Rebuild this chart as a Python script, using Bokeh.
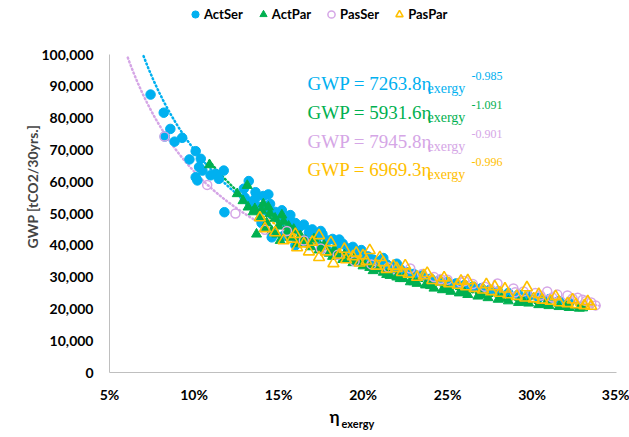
import numpy as np
from bokeh.plotting import figure
from bokeh.layouts import column
from bokeh.models import (Range1d, FixedTicker, NumeralTickFormatter, Label,
                          Legend, LegendItem)
from bokeh.core.properties import value
from bokeh.embed import file_html
from bokeh.resources import INLINE

# ---------------- data (x in %, GWP in tCO2/30yrs) ----------------
actser_x = [7.43, 8.21, 8.6, 8.27, 8.85, 9.3, 10.1, 10.4, 9.73, 10.3, 10.5, 10.1, 10.2,
            10.98, 11.27, 11.76, 11.47, 11.8, 13.24, 13.64,
            13.0, 13.3, 13.6, 13.9, 14.1, 14.3, 14.5, 14.8, 15.0, 15.2, 15.5, 15.7, 16.0,
            16.2, 16.5, 16.8, 17.0, 17.3, 17.6, 17.9, 18.2, 18.5, 18.8, 19.1, 19.4, 19.7,
            20.0, 20.3, 20.6, 21.0, 21.4, 21.8, 22.2, 22.6, 23.0, 23.5, 24.0, 24.5, 25.0,
            25.5, 26.0, 26.5, 27.0, 27.5, 28.0, 28.6, 29.2, 29.8, 30.4, 31.0, 31.6, 32.2,
            15.3, 16.6, 14.0, 14.6, 16.0, 12.95, 14.4, 17.5, 18.6, 19.9, 21.2, 22.0]
actser_y = [87400, 81700, 76600, 74200, 72600, 73800, 69600, 67200, 67000, 64600, 63500, 61400, 60400,
            62000, 62500, 63500, 60900, 50400, 60200, 56700,
            55000, 53500, 54500, 52000, 55500, 51000, 53000, 50500, 49000, 51000, 48000, 49500, 47000,
            45500, 46500, 44000, 45000, 42500, 43500, 41500, 42000, 40000, 40500, 39000, 39500, 37500,
            37000, 36500, 35500, 35000, 34000, 33000, 32500, 31500, 31000, 30500, 29500, 29000, 28500,
            28000, 27500, 27000, 26500, 26000, 25500, 25000, 24500, 24000, 23500, 23000, 22500, 22000,
            43000, 41000, 47000, 42500, 40000, 57800, 56000, 44500, 41800, 38500, 36000, 34200]

actpar_x = [10.92, 13.15, 12.56, 12.9, 13.2, 13.5, 13.7, 13.9, 14.1, 14.3, 14.5, 14.6, 14.8,
            15.0, 15.1, 15.3, 15.5, 15.7, 15.9, 16.1, 16.3, 16.6, 16.9, 17.1, 17.4, 17.7,
            18.0, 18.3, 18.6, 18.9, 19.2, 19.5, 19.8, 20.1, 20.4, 20.8, 21.2, 21.6, 22.0,
            22.4, 22.8, 23.2, 23.7, 24.2, 24.7, 25.2, 25.7, 26.2, 26.8, 27.4, 28.0, 28.6,
            29.2, 29.8, 30.4, 31.0, 31.6, 32.2, 32.8, 14.0,
            14.2, 14.9, 15.6, 16.2, 16.8, 17.5, 18.2, 18.8, 19.4, 20.0, 20.6, 21.4, 22.2,
            23.0, 24.0, 25.0, 26.0, 27.0, 28.2, 29.5, 30.8, 32.0, 33.0, 13.6, 14.4, 15.2]
actpar_y = [65300, 58800, 56200, 54000, 52000, 50500, 43500, 49000, 53000, 47000, 50000, 44500, 48500,
            46000, 41500, 47500, 44000, 42500, 45000, 40500, 43000, 41500, 39500, 42000, 38500, 40000,
            37500, 38500, 36500, 37000, 35500, 36000, 34500, 34000, 33000, 32500, 31500, 30500, 30000,
            29500, 28500, 28000, 27500, 26500, 26000, 25500, 25000, 24500, 24000, 23500, 23000, 22500,
            22000, 21800, 21300, 21000, 20700, 20400, 20200, 51000,
            45500, 43500, 46000, 41500, 40500, 39500, 36500, 35500, 34500, 33500, 32000, 30800, 29500,
            28500, 27300, 26200, 25200, 24300, 23300, 22300, 21500, 20800, 20300, 51500, 52000, 49500]

passer_x = [8.25, 10.78, 12.45, 14.2, 15.5, 16.5, 17.5, 18.5, 19.5, 20.5, 21.5, 22.8, 23.5,
            24.2, 25.0, 25.8, 26.5, 27.2, 27.96, 28.9, 29.5, 30.2, 30.9, 31.5, 32.1, 32.7,
            33.2, 33.76, 33.5, 29.0, 31.2, 32.4, 33.0, 30.5, 26.0, 24.6]
passer_y = [74200, 59000, 50000, 44900, 44500, 41500, 39000, 37000, 35000, 34000, 33000, 32700, 31000,
            30000, 29200, 28300, 27800, 27000, 28000, 26400, 25500, 25000, 25500, 24500, 24200, 23500,
            22500, 21100, 22000, 25200, 23600, 23300, 22900, 24200, 28800, 29400]

paspar_x = [13.9, 14.2, 15.3, 16.1, 17.4, 17.4, 18.1, 18.25, 20.4, 21.0, 14.8, 15.8, 16.5, 16.8,
            17.8, 18.6, 19.0, 19.4, 19.8, 20.2, 20.8, 21.4, 21.8, 22.3, 22.7, 23.2, 23.6, 24.1,
            24.6, 25.1, 25.6, 26.1, 26.6, 27.1, 27.6, 28.1, 28.6, 29.1, 29.6, 30.1, 30.6, 31.1,
            31.6, 32.1, 32.6, 33.1, 33.5, 29.7, 26.2, 27.3,
            16.0, 17.0, 18.9, 19.6, 20.0, 21.2, 22.0, 22.5, 23.8, 24.8, 25.8, 27.8, 28.4,
            30.4, 31.4, 32.4, 33.3]
paspar_y = [48700, 45300, 41500, 39300, 36200, 43100, 40900, 34300, 38400, 36200, 44000, 42000, 40500, 38000,
            38000, 37000, 35500, 36500, 34500, 35000, 33500, 32500, 33500, 31500, 31000, 30000, 30500, 29000,
            28500, 28000, 27500, 27000, 26500, 26000, 25500, 25000, 24500, 24000, 23500, 23200, 22800, 22500,
            22000, 21700, 21400, 21100, 20900, 26700, 28900, 27700,
            43500, 41000, 38800, 37600, 36800, 34600, 32800, 33600, 31200, 29800, 28800, 27000, 26300,
            24600, 23900, 22900, 22300]

# power-law trendlines shown on the chart: GWP = a * eta^b
series_names = ["ActSer", "ActPar", "PasSer", "PasPar"]
fit_a = [7263.8, 5931.6, 7945.8, 6969.3]
fit_b = [-0.985, -1.091, -0.901, -0.996]
fit_start = [6.0, 10.9, 5.8, 13.5]   # % where each dotted trendline begins (clipped at axis top)
fit_end = [33.0, 33.0, 34.0, 33.6]

colors = ["#00B0F0", "#00B050", "#D5A6E6", "#FFC000"]
x_ticks = [5, 10, 15, 20, 25, 30, 35]
y_ticks = [0, 10000, 20000, 30000, 40000, 50000, 60000, 70000, 80000, 90000, 100000]
y_axis_max = 100000

# ---------------- layout constants (pixels) ----------------
W = 629
FRAME_L, FRAME_R = 109, 616
FRAME_B = 372            # canvas y of the x axis
PX_PER_K = 3.18          # pixels per 1000 tCO2
MAIN_H = 405
y_top = FRAME_B / PX_PER_K * 1000   # frame reaches the canvas top

p = figure(width=W, height=MAIN_H, output_backend="svg", toolbar_location=None,
           x_range=Range1d(0.05, 0.35), y_range=Range1d(0, y_top),
           min_border_left=FRAME_L, min_border_right=W - FRAME_R,
           min_border_top=0, min_border_bottom=MAIN_H - FRAME_B)
p.outline_line_color = None
p.xgrid.visible = False
p.ygrid.visible = False

for ax in (p.xaxis[0], p.yaxis[0]):
    ax.axis_line_color = "#BFBFBF"
    ax.axis_line_width = 1
    ax.major_tick_line_color = None
    ax.minor_tick_line_color = None
    ax.major_tick_out = 0
    ax.major_tick_in = 0
    ax.minor_tick_out = 0
    ax.major_label_text_font = "Lato"
    ax.major_label_text_font_style = "bold"
    ax.major_label_text_font_size = "14px"
    ax.major_label_text_color = "#000000"

p.xaxis.ticker = FixedTicker(ticks=[t / 100 for t in x_ticks])
p.xaxis.formatter = NumeralTickFormatter(format="0%")
p.xaxis.major_label_standoff = 13
p.yaxis.ticker = FixedTicker(ticks=y_ticks)
p.yaxis.formatter = NumeralTickFormatter(format="0,0")
p.yaxis.bounds = (0, y_axis_max)
p.yaxis.major_label_standoff = 16
p.yaxis.axis_label = "GWP [tCO2/30yrs.]"
p.yaxis.axis_label_text_font = "Lato"
p.yaxis.axis_label_text_font_style = "bold"
p.yaxis.axis_label_text_font_size = "14px"
p.yaxis.axis_label_standoff = -2

# trendlines (clipped at the top of the value axis)
for i in range(4):
    xs = np.linspace(fit_start[i], fit_end[i], 400) / 100
    ys = fit_a[i] * xs ** fit_b[i]
    keep = ys <= y_axis_max
    p.line(xs[keep], ys[keep], line_color=colors[i], line_width=2.5,
           line_dash="1 3", line_cap="round")

def pct(v):
    return [t / 100 for t in v]

r1 = p.scatter(pct(actser_x), actser_y, marker="circle", size=9.5, fill_color=colors[0],
               line_color=colors[0])
r2 = p.scatter(pct(actpar_x), actpar_y, marker="triangle", size=10, fill_color=colors[1],
               line_color=colors[1])
r3 = p.scatter(pct(passer_x), passer_y, marker="circle", size=9, fill_color=None,
               line_color=colors[2], line_width=1.5)
r4 = p.scatter(pct(paspar_x), paspar_y, marker="triangle", size=11, fill_color=None,
               line_color=colors[3], line_width=1.6)

legend = Legend(items=[LegendItem(label=n, renderers=[r]) for n, r in zip(series_names, [r1, r2, r3, r4])],
                orientation="horizontal", location=(77, FRAME_B - 24),
                label_text_font="Lato", label_text_font_style="bold", label_text_font_size="13px",
                label_text_color="#000000", label_height=20,
                glyph_width=18, glyph_height=20, label_standoff=0, spacing=11, padding=0,
                margin=0, border_line_color=None, background_fill_alpha=0)
p.add_layout(legend)

# trendline equations
def px2x(px):
    return 0.05 + (px - FRAME_L) / (FRAME_R - FRAME_L) * 0.30

def py2y(py):
    return (FRAME_B - py) / PX_PER_K * 1000

eq_rows = [83, 112, 141, 169]
for i in range(4):
    cy = eq_rows[i]
    p.add_layout(Label(x=px2x(307), y=py2y(cy), text="GWP = %.1fη" % fit_a[i],
                       text_font="Liberation Serif", text_font_size="19px",
                       text_color=colors[i], text_baseline="middle", text_align="left"))
    p.add_layout(Label(x=px2x(427), y=py2y(cy + 5), text="exergy",
                       text_font="Liberation Serif", text_font_size="14px",
                       text_color=colors[i], text_baseline="middle", text_align="left"))
    p.add_layout(Label(x=px2x(471), y=py2y(cy - 8), text="%.3f" % fit_b[i],
                       text_font="Liberation Serif", text_font_size="12px",
                       text_color=colors[i], text_baseline="middle", text_align="left"))

# strip below the chart carrying the x axis title (eta with subscript)
BOT_H = 437 - MAIN_H
q = figure(width=W, height=BOT_H, output_backend="svg", toolbar_location=None,
           x_range=p.x_range, y_range=Range1d(0, BOT_H),
           min_border_left=FRAME_L, min_border_right=W - FRAME_R,
           min_border_top=0, min_border_bottom=0)
q.axis.visible = False
q.grid.visible = False
q.outline_line_color = None
q.text(x=[px2x(334)], y=[BOT_H - (416 - MAIN_H)], text=["η"], text_font=value("Lato"),
       text_font_style="bold", text_font_size="17px", text_color="#000000",
       text_align="center", text_baseline="middle")
q.text(x=[px2x(341)], y=[BOT_H - (423 - MAIN_H)], text=["exergy"], text_font=value("Lato"),
       text_font_style="bold", text_font_size="11px", text_color="#000000",
       text_align="left", text_baseline="middle")

layout = column(p, q, spacing=0)
open("out.html", "w").write(file_html(layout, INLINE))
